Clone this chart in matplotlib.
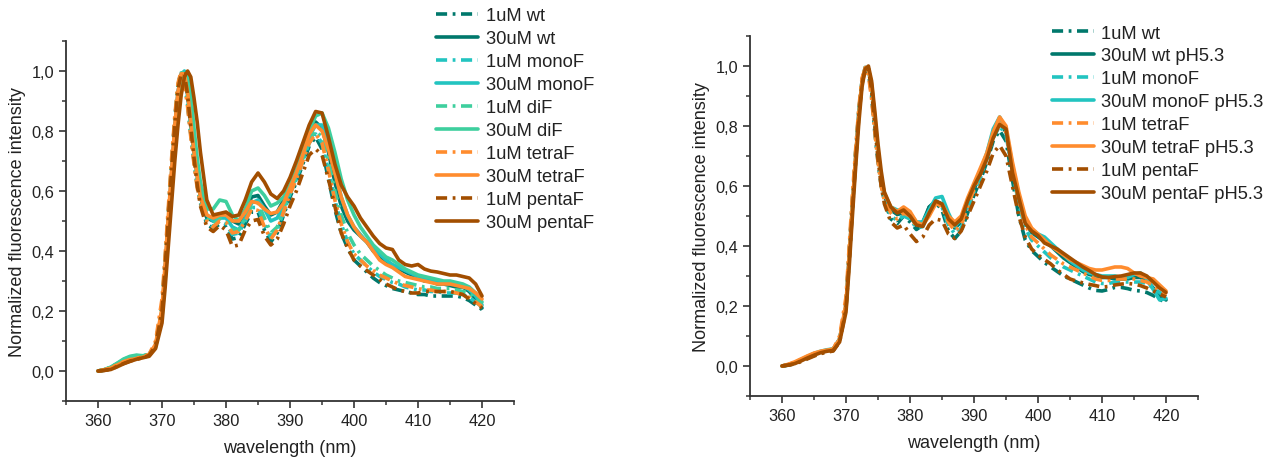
import matplotlib
matplotlib.use("Agg")
import matplotlib.pyplot as plt
from matplotlib.ticker import MultipleLocator, FuncFormatter

plt.rcParams['font.family'] = ['Liberation Sans', 'DejaVu Sans']
plt.rcParams['lines.scale_dashes'] = False

# wavelength grid (nm), finer around the main peak
wl = [360, 361, 362, 363, 364, 365, 366, 367, 368, 369, 370,
      370.5, 371, 371.5, 372, 372.5, 373, 373.5, 374, 374.5, 375, 375.5, 376,
      377, 378, 379, 380, 381, 382, 383, 384, 385, 386, 387, 388, 389, 390,
      391, 392, 393, 394, 395, 396, 397, 398, 399, 400,
      401, 402, 403, 404, 405, 406, 407, 408, 409, 410,
      411, 412, 413, 414, 415, 416, 417, 418, 419, 420]

# ---- left panel ----
L_wt_1 = [0.0, 0.003, 0.008, 0.018, 0.027, 0.035, 0.041, 0.046, 0.054, 0.09, 0.22,
          0.37, 0.53, 0.69, 0.84, 0.95, 1.0, 0.97, 0.89, 0.79, 0.70, 0.62, 0.56,
          0.49, 0.475, 0.49, 0.48, 0.44, 0.445, 0.49, 0.53, 0.53, 0.47, 0.43, 0.46, 0.52, 0.58,
          0.63, 0.69, 0.75, 0.78, 0.74, 0.64, 0.54, 0.46, 0.41, 0.37,
          0.35, 0.33, 0.31, 0.295, 0.285, 0.275, 0.27, 0.265, 0.26, 0.255,
          0.255, 0.25, 0.25, 0.25, 0.25, 0.25, 0.245, 0.235, 0.22, 0.205]
L_wt_30 = [0.0, 0.003, 0.009, 0.019, 0.028, 0.036, 0.042, 0.047, 0.054, 0.085, 0.20,
           0.34, 0.50, 0.66, 0.81, 0.93, 0.99, 0.99, 0.92, 0.82, 0.73, 0.65, 0.58,
           0.51, 0.50, 0.52, 0.525, 0.50, 0.49, 0.53, 0.58, 0.585, 0.55, 0.52, 0.53, 0.57, 0.61,
           0.66, 0.72, 0.79, 0.83, 0.81, 0.73, 0.63, 0.55, 0.50, 0.47,
           0.45, 0.43, 0.40, 0.38, 0.36, 0.35, 0.34, 0.33, 0.32, 0.31,
           0.30, 0.30, 0.29, 0.29, 0.285, 0.28, 0.28, 0.265, 0.24, 0.21]
L_mono_1 = [0.0, 0.004, 0.012, 0.024, 0.036, 0.045, 0.050, 0.050, 0.055, 0.09, 0.22,
            0.37, 0.53, 0.69, 0.84, 0.95, 1.0, 0.97, 0.89, 0.79, 0.70, 0.62, 0.565,
            0.50, 0.48, 0.50, 0.49, 0.455, 0.46, 0.50, 0.545, 0.545, 0.49, 0.445, 0.47, 0.53, 0.59,
            0.64, 0.70, 0.76, 0.79, 0.76, 0.67, 0.57, 0.49, 0.43, 0.39,
            0.37, 0.35, 0.33, 0.315, 0.305, 0.295, 0.29, 0.28, 0.275, 0.27,
            0.27, 0.265, 0.265, 0.26, 0.26, 0.26, 0.255, 0.245, 0.23, 0.215]
L_mono_30 = [0.0, 0.004, 0.012, 0.025, 0.038, 0.047, 0.051, 0.050, 0.055, 0.085, 0.19,
             0.33, 0.48, 0.63, 0.78, 0.90, 0.98, 1.0, 0.95, 0.85, 0.75, 0.67, 0.60,
             0.52, 0.50, 0.51, 0.51, 0.48, 0.47, 0.51, 0.56, 0.57, 0.54, 0.50, 0.51, 0.55, 0.60,
             0.65, 0.71, 0.78, 0.82, 0.82, 0.76, 0.67, 0.58, 0.52, 0.48,
             0.455, 0.43, 0.41, 0.39, 0.37, 0.355, 0.345, 0.335, 0.325, 0.315,
             0.31, 0.305, 0.30, 0.295, 0.29, 0.29, 0.285, 0.27, 0.25, 0.22]
L_di_1 = [0.0, 0.004, 0.012, 0.024, 0.036, 0.046, 0.051, 0.050, 0.055, 0.09, 0.21,
          0.36, 0.52, 0.68, 0.83, 0.95, 1.0, 0.975, 0.90, 0.80, 0.71, 0.63, 0.57,
          0.51, 0.49, 0.51, 0.50, 0.47, 0.47, 0.51, 0.55, 0.56, 0.51, 0.46, 0.48, 0.54, 0.60,
          0.65, 0.71, 0.77, 0.80, 0.78, 0.70, 0.60, 0.52, 0.46, 0.42,
          0.39, 0.37, 0.35, 0.335, 0.32, 0.31, 0.30, 0.295, 0.29, 0.285,
          0.28, 0.28, 0.275, 0.275, 0.275, 0.27, 0.265, 0.26, 0.24, 0.225]
L_di_30 = [0.0, 0.005, 0.013, 0.026, 0.040, 0.049, 0.053, 0.051, 0.055, 0.08, 0.18,
           0.31, 0.46, 0.61, 0.76, 0.88, 0.96, 0.99, 0.99, 0.92, 0.81, 0.71, 0.63,
           0.54, 0.54, 0.57, 0.565, 0.52, 0.50, 0.54, 0.60, 0.61, 0.585, 0.55, 0.56, 0.58, 0.62,
           0.67, 0.73, 0.80, 0.85, 0.86, 0.81, 0.73, 0.64, 0.57, 0.52,
           0.48, 0.45, 0.42, 0.40, 0.38, 0.37, 0.355, 0.34, 0.33, 0.32,
           0.315, 0.31, 0.305, 0.30, 0.30, 0.295, 0.29, 0.28, 0.26, 0.23]
L_tetra_1 = [0.0, 0.004, 0.010, 0.021, 0.031, 0.038, 0.043, 0.047, 0.056, 0.10, 0.24,
             0.39, 0.55, 0.71, 0.85, 0.96, 1.0, 0.96, 0.88, 0.78, 0.69, 0.61, 0.56,
             0.50, 0.48, 0.50, 0.495, 0.46, 0.465, 0.50, 0.54, 0.535, 0.48, 0.44, 0.47, 0.53, 0.59,
             0.64, 0.70, 0.76, 0.79, 0.76, 0.67, 0.57, 0.49, 0.43, 0.39,
             0.37, 0.35, 0.335, 0.32, 0.31, 0.30, 0.29, 0.285, 0.28, 0.275,
             0.27, 0.27, 0.265, 0.265, 0.265, 0.26, 0.255, 0.245, 0.23, 0.215]
L_tetra_30 = [0.0, 0.004, 0.010, 0.020, 0.030, 0.037, 0.042, 0.046, 0.054, 0.09, 0.21,
              0.36, 0.52, 0.67, 0.82, 0.93, 0.99, 0.99, 0.93, 0.83, 0.73, 0.65, 0.58,
              0.52, 0.51, 0.52, 0.52, 0.50, 0.50, 0.53, 0.565, 0.56, 0.54, 0.525, 0.53, 0.56, 0.61,
              0.66, 0.72, 0.79, 0.82, 0.80, 0.74, 0.66, 0.58, 0.52, 0.48,
              0.45, 0.43, 0.40, 0.37, 0.355, 0.345, 0.33, 0.315, 0.31, 0.305,
              0.30, 0.295, 0.29, 0.29, 0.29, 0.285, 0.28, 0.275, 0.26, 0.24]
L_penta_1 = [0.0, 0.002, 0.006, 0.015, 0.025, 0.033, 0.039, 0.044, 0.052, 0.085, 0.20,
             0.35, 0.51, 0.67, 0.82, 0.94, 0.99, 0.99, 0.92, 0.81, 0.71, 0.62, 0.55,
             0.48, 0.465, 0.485, 0.47, 0.415, 0.42, 0.47, 0.50, 0.505, 0.45, 0.42, 0.44, 0.49, 0.55,
             0.60, 0.66, 0.72, 0.74, 0.72, 0.64, 0.55, 0.46, 0.41, 0.37,
             0.35, 0.335, 0.32, 0.305, 0.29, 0.28, 0.27, 0.265, 0.26, 0.26,
             0.265, 0.265, 0.265, 0.265, 0.265, 0.26, 0.255, 0.24, 0.225, 0.21]
L_penta_30 = [0.0, 0.002, 0.005, 0.014, 0.024, 0.032, 0.039, 0.044, 0.049, 0.075, 0.16,
              0.28, 0.42, 0.56, 0.70, 0.82, 0.92, 0.98, 1.0, 0.98, 0.91, 0.83, 0.73,
              0.57, 0.52, 0.525, 0.53, 0.515, 0.52, 0.57, 0.63, 0.66, 0.63, 0.59, 0.575, 0.60, 0.645,
              0.70, 0.76, 0.82, 0.865, 0.86, 0.78, 0.69, 0.62, 0.58, 0.55,
              0.51, 0.48, 0.45, 0.425, 0.41, 0.405, 0.37, 0.355, 0.35, 0.355,
              0.34, 0.333, 0.33, 0.325, 0.32, 0.32, 0.315, 0.31, 0.29, 0.25]

# ---- right panel ----
R_wt_1 = [0.0, 0.003, 0.008, 0.017, 0.026, 0.035, 0.043, 0.048, 0.052, 0.085, 0.21,
          0.38, 0.55, 0.71, 0.85, 0.95, 0.99, 0.98, 0.90, 0.78, 0.68, 0.60, 0.55,
          0.49, 0.475, 0.50, 0.48, 0.455, 0.47, 0.53, 0.545, 0.52, 0.45, 0.425, 0.45, 0.51, 0.57,
          0.62, 0.68, 0.75, 0.785, 0.75, 0.62, 0.50, 0.42, 0.385, 0.365,
          0.345, 0.33, 0.315, 0.30, 0.29, 0.28, 0.27, 0.26, 0.252, 0.25,
          0.255, 0.262, 0.262, 0.258, 0.252, 0.25, 0.245, 0.235, 0.223, 0.21]
R_wt_30 = [0.0, 0.004, 0.010, 0.020, 0.030, 0.040, 0.047, 0.052, 0.055, 0.09, 0.20,
           0.36, 0.53, 0.69, 0.84, 0.95, 0.995, 0.99, 0.93, 0.82, 0.71, 0.62, 0.565,
           0.52, 0.505, 0.51, 0.50, 0.47, 0.48, 0.53, 0.55, 0.54, 0.49, 0.46, 0.48, 0.54, 0.59,
           0.64, 0.70, 0.77, 0.81, 0.78, 0.66, 0.56, 0.48, 0.445, 0.43,
           0.415, 0.40, 0.38, 0.36, 0.345, 0.33, 0.315, 0.305, 0.30, 0.295,
           0.295, 0.29, 0.29, 0.29, 0.295, 0.295, 0.285, 0.26, 0.235, 0.22]
R_mono_1 = [0.0, 0.004, 0.010, 0.020, 0.030, 0.040, 0.047, 0.052, 0.056, 0.09, 0.21,
            0.38, 0.55, 0.71, 0.85, 0.95, 0.99, 0.98, 0.91, 0.79, 0.69, 0.61, 0.555,
            0.50, 0.485, 0.50, 0.49, 0.46, 0.465, 0.51, 0.55, 0.53, 0.47, 0.44, 0.46, 0.52, 0.58,
            0.63, 0.69, 0.76, 0.80, 0.77, 0.65, 0.54, 0.46, 0.42, 0.40,
            0.38, 0.36, 0.345, 0.33, 0.32, 0.31, 0.30, 0.29, 0.28, 0.275,
            0.275, 0.28, 0.28, 0.28, 0.28, 0.28, 0.275, 0.26, 0.245, 0.23]
R_mono_30 = [0.0, 0.004, 0.011, 0.022, 0.032, 0.042, 0.049, 0.054, 0.057, 0.09, 0.20,
             0.36, 0.53, 0.69, 0.84, 0.95, 0.995, 0.99, 0.93, 0.82, 0.71, 0.63, 0.57,
             0.53, 0.52, 0.515, 0.51, 0.48, 0.48, 0.52, 0.56, 0.565, 0.51, 0.465, 0.49, 0.55, 0.60,
             0.65, 0.71, 0.79, 0.83, 0.79, 0.67, 0.57, 0.49, 0.455, 0.44,
             0.43, 0.41, 0.39, 0.37, 0.35, 0.335, 0.32, 0.31, 0.305, 0.30,
             0.30, 0.30, 0.295, 0.295, 0.305, 0.31, 0.29, 0.255, 0.22, 0.225]
R_tetra_1 = [0.0, 0.005, 0.012, 0.022, 0.032, 0.041, 0.048, 0.052, 0.056, 0.10, 0.23,
             0.40, 0.57, 0.72, 0.86, 0.96, 0.99, 0.97, 0.89, 0.78, 0.68, 0.60, 0.55,
             0.51, 0.49, 0.51, 0.50, 0.465, 0.47, 0.51, 0.545, 0.53, 0.48, 0.45, 0.47, 0.53, 0.59,
             0.64, 0.70, 0.77, 0.81, 0.78, 0.66, 0.55, 0.47, 0.43, 0.41,
             0.39, 0.37, 0.355, 0.34, 0.33, 0.32, 0.31, 0.30, 0.29, 0.285,
             0.285, 0.29, 0.29, 0.29, 0.29, 0.285, 0.28, 0.27, 0.25, 0.235]
R_tetra_30 = [0.0, 0.006, 0.014, 0.024, 0.034, 0.043, 0.049, 0.053, 0.056, 0.09, 0.21,
              0.37, 0.54, 0.70, 0.84, 0.95, 0.995, 0.99, 0.94, 0.83, 0.72, 0.63, 0.575,
              0.53, 0.515, 0.53, 0.515, 0.48, 0.47, 0.50, 0.54, 0.54, 0.50, 0.48, 0.50, 0.56, 0.61,
              0.66, 0.71, 0.78, 0.83, 0.80, 0.68, 0.58, 0.50, 0.46, 0.44,
              0.42, 0.40, 0.385, 0.37, 0.355, 0.345, 0.335, 0.325, 0.32, 0.32,
              0.325, 0.33, 0.33, 0.325, 0.31, 0.30, 0.295, 0.29, 0.27, 0.25]
R_penta_1 = [0.0, 0.003, 0.007, 0.015, 0.024, 0.033, 0.041, 0.046, 0.050, 0.08, 0.19,
             0.35, 0.52, 0.68, 0.83, 0.94, 0.99, 0.99, 0.92, 0.80, 0.69, 0.60, 0.54,
             0.48, 0.46, 0.47, 0.44, 0.415, 0.43, 0.47, 0.49, 0.485, 0.44, 0.425, 0.45, 0.50, 0.55,
             0.60, 0.65, 0.71, 0.735, 0.70, 0.60, 0.50, 0.43, 0.39, 0.37,
             0.355, 0.34, 0.32, 0.305, 0.29, 0.283, 0.277, 0.272, 0.268, 0.263,
             0.265, 0.27, 0.273, 0.275, 0.273, 0.268, 0.26, 0.25, 0.24, 0.23]
R_penta_30 = [0.0, 0.003, 0.008, 0.017, 0.027, 0.036, 0.044, 0.049, 0.052, 0.08, 0.18,
              0.33, 0.50, 0.66, 0.81, 0.93, 0.99, 1.0, 0.95, 0.85, 0.74, 0.65, 0.58,
              0.53, 0.51, 0.52, 0.50, 0.47, 0.465, 0.51, 0.55, 0.54, 0.49, 0.47, 0.49, 0.55, 0.60,
              0.64, 0.69, 0.76, 0.805, 0.79, 0.645, 0.56, 0.475, 0.45, 0.435,
              0.41, 0.40, 0.39, 0.375, 0.36, 0.345, 0.33, 0.318, 0.305, 0.297,
              0.295, 0.298, 0.30, 0.305, 0.31, 0.31, 0.30, 0.28, 0.26, 0.245]

left_labels = ["1uM wt", "30uM wt", "1uM monoF", "30uM monoF", "1uM diF", "30uM diF",
               "1uM tetraF", "30uM tetraF", "1uM pentaF", "30uM pentaF"]
left_series = [L_wt_1, L_wt_30, L_mono_1, L_mono_30, L_di_1, L_di_30,
               L_tetra_1, L_tetra_30, L_penta_1, L_penta_30]
right_labels = ["1uM wt", "30uM wt pH5.3", "1uM monoF", "30uM monoF pH5.3",
                "1uM tetraF", "30uM tetraF pH5.3", "1uM pentaF", "30uM pentaF pH5.3"]
right_series = [R_wt_1, R_wt_30, R_mono_1, R_mono_30,
                R_tetra_1, R_tetra_30, R_penta_1, R_penta_30]

TEAL = "#00786c"
CYAN = "#22c4c0"
MINT = "#3ecf9e"
ORANGE = "#ff8c2e"
BROWN = "#a24e00"
left_colors = [TEAL, TEAL, CYAN, CYAN, MINT, MINT, ORANGE, ORANGE, BROWN, BROWN]
right_colors = [TEAL, TEAL, CYAN, CYAN, ORANGE, ORANGE, BROWN, BROWN]

DASHDOT = (0, (8, 4, 2, 4))
TXT = "#222222"

fig = plt.figure(figsize=(12.79, 4.64), dpi=100)
ax1 = fig.add_axes([0.0516, 0.1336, 0.3503, 0.7759])
ax2 = fig.add_axes([0.5864, 0.1444, 0.3503, 0.7759])


def comma(v, pos):
    return f"{v:.1f}".replace(".", ",")


def draw(ax, labels, series, colors, legend_xy):
    handles = []
    for i, (lab, ys, c) in enumerate(zip(labels, series, colors)):
        ls = DASHDOT if i % 2 == 0 else "-"
        h, = ax.plot(wl, ys, color=c, lw=2.6, ls=ls, label=lab,
                     solid_capstyle="round", dash_capstyle="butt")
        handles.append(h)
    ax.set_xlim(355, 425)
    ax.set_ylim(-0.1, 1.1)
    ax.xaxis.set_major_locator(MultipleLocator(10))
    ax.xaxis.set_minor_locator(MultipleLocator(5))
    ax.yaxis.set_major_locator(MultipleLocator(0.2))
    ax.yaxis.set_minor_locator(MultipleLocator(0.1))
    ax.yaxis.set_major_formatter(FuncFormatter(comma))
    for s in ["top", "right"]:
        ax.spines[s].set_visible(False)
    for s in ["left", "bottom"]:
        ax.spines[s].set_linewidth(1.3)
        ax.spines[s].set_color("#333333")
    ax.tick_params(which="major", direction="out", length=5, width=1.2,
                   labelsize=11.8, colors="#333333", labelcolor=TXT)
    ax.tick_params(which="minor", direction="out", length=3, width=1.1, colors="#333333")
    ax.set_xlabel("wavelength (nm)", fontsize=13, color=TXT, labelpad=8)
    ax.set_ylabel("Normalized fluorescence intensity", fontsize=13, color=TXT, labelpad=4)
    fig.legend(handles=handles, loc="upper left", bbox_to_anchor=legend_xy,
               bbox_transform=fig.transFigure, frameon=False, fontsize=13.2,
               handlelength=2.3, handletextpad=0.4, labelspacing=0.325,
               borderpad=0, borderaxespad=0, labelcolor=TXT)


draw(ax1, left_labels, left_series, left_colors, (0.341, 0.982))
draw(ax2, right_labels, right_series, right_colors, (0.8225, 0.945))

fig.savefig("out.png", dpi=100)
